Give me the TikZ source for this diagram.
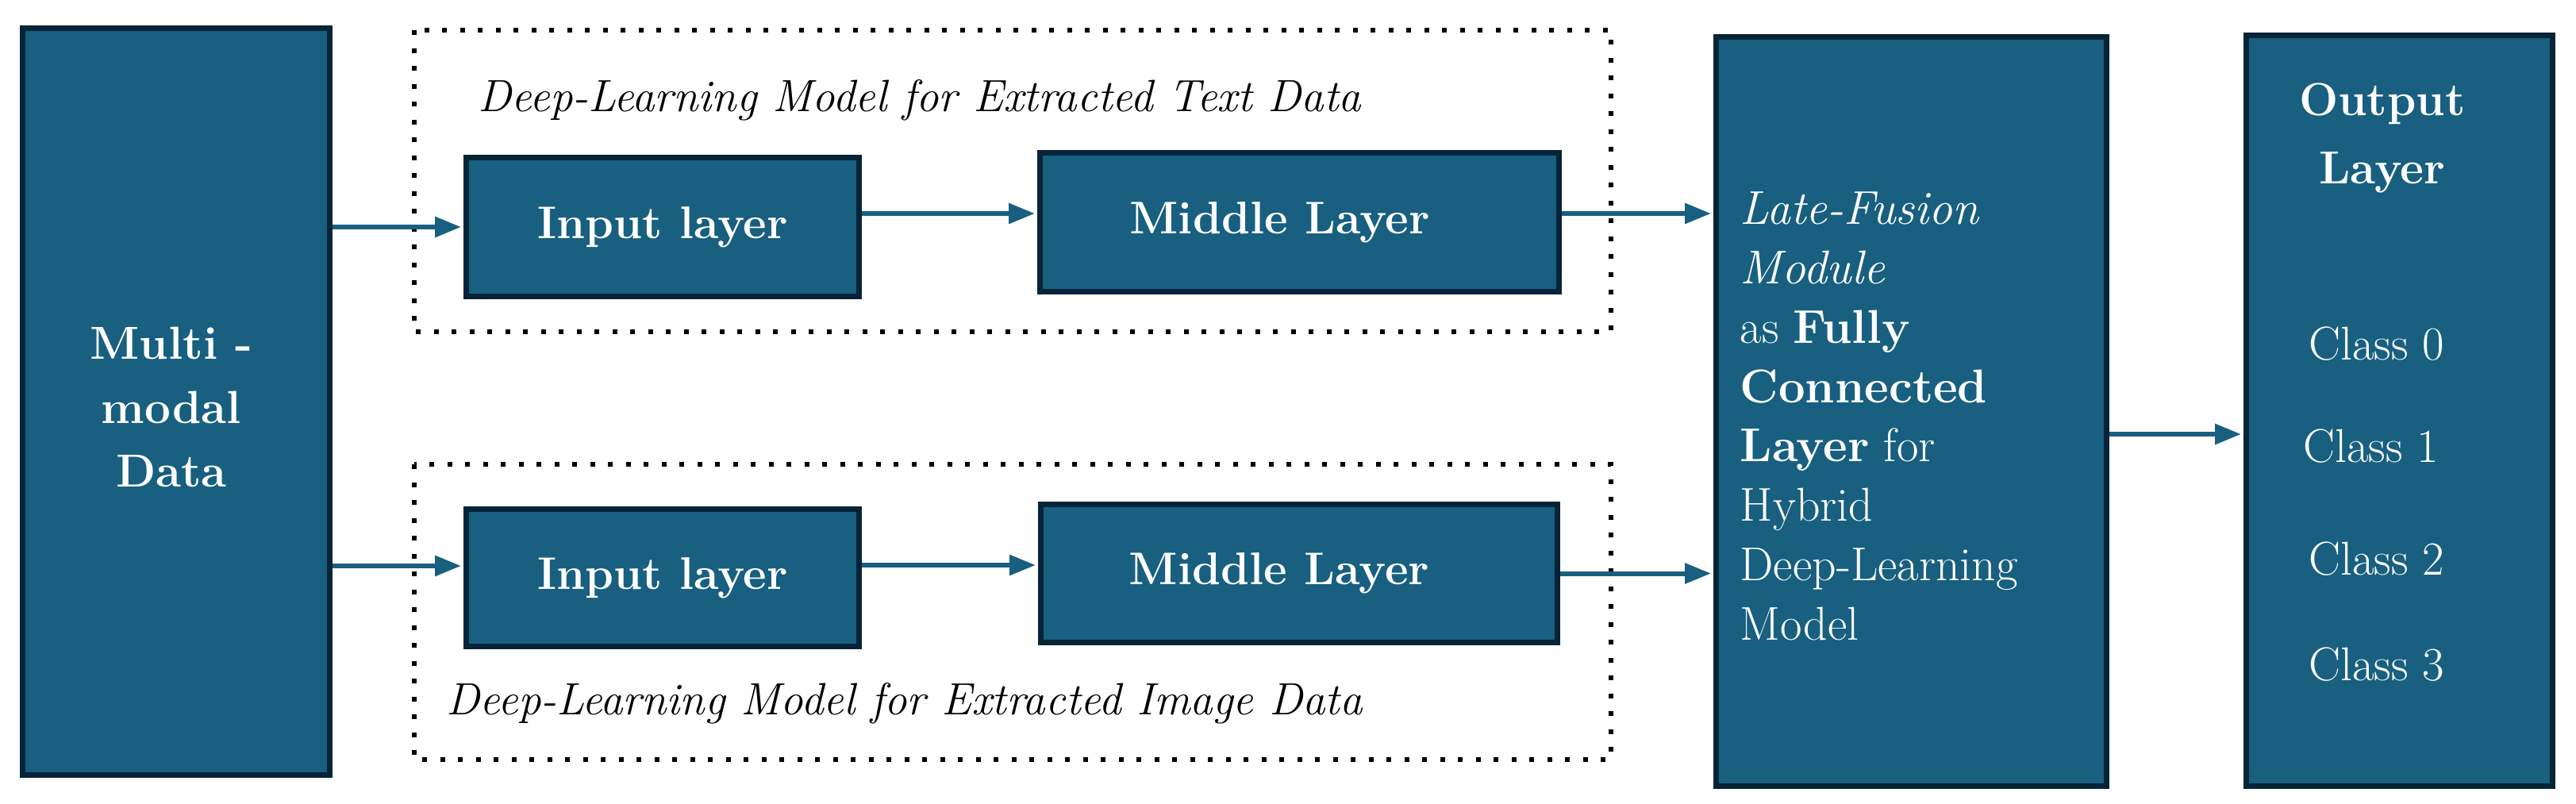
\documentclass[tikz,border=0pt]{standalone}
\usepackage{tikz}
\usetikzlibrary{calc, positioning, arrows.meta}
\definecolor{boxblue}{HTML}{185F80}
\definecolor{boxedge}{HTML}{062337}

\begin{document}
\begin{tikzpicture}[
  box/.style={draw=boxedge, fill=boxblue, line width=0.07cm, inner sep=0pt},
  boxtxt/.style={text=white, inner sep=0pt, font=\fontsize{16.6}{21.3}\selectfont},
  conn/.style={draw=boxblue, line width=0.06cm, -{Triangle[length=0.33cm,width=0.25cm]}, shorten >=0.03cm},
  dotframe/.style={draw=black, line width=0.06cm, dash pattern=on 0.06cm off 0.165cm},
  captxt/.style={inner sep=0pt, font=\fontsize{16.2}{20}\selectfont\itshape}
]
\useasboundingbox (0,0) rectangle (32.46,-10.12);
% dotted frames round the two branches
\draw[dotframe] (5.22,-0.38) rectangle (20.30,-4.18);
\draw[dotframe] (5.22,-5.85) rectangle (20.30,-9.57);
\node[captxt, anchor=base west] (capText) at (6.02,-1.40) {Deep-Learning Model for Extracted Text Data};
\node[captxt, anchor=base west] (capImage) at (5.62,-9.00) {Deep-Learning Model for Extracted Image Data};

% boxes
\node[box, minimum width=3.87cm, minimum height=9.41cm] (multi) at (2.22,-5.06) {};
\node[box, boxtxt, minimum width=4.95cm, minimum height=1.75cm, font=\fontsize{16.4}{21.3}\selectfont\bfseries] (inT) at (8.35,-2.86) {Input layer};
\node[box, boxtxt, minimum width=6.54cm, minimum height=1.75cm, font=\fontsize{16.4}{21.3}\selectfont\bfseries] (midT) at (16.375,-2.80) {Middle Layer\hspace*{0.5cm}};
\node[box, boxtxt, minimum width=4.95cm, minimum height=1.73cm, font=\fontsize{16.4}{21.3}\selectfont\bfseries] (inB) at (8.35,-7.28) {Input layer};
\node[box, boxtxt, minimum width=6.51cm, minimum height=1.74cm, font=\fontsize{16.4}{21.3}\selectfont\bfseries] (midB) at (16.37,-7.225) {Middle Layer\hspace*{0.5cm}};
\node[box, minimum width=4.92cm, minimum height=9.44cm] (fusion) at (24.085,-5.185) {};
\node[box, minimum width=3.86cm, minimum height=9.46cm] (out) at (30.235,-5.175) {};

% texts in the tall boxes
\node[boxtxt, align=center, font=\fontsize{16.6}{23}\selectfont\bfseries] (multiTxt) at (2.16,-5.13) {Multi -\\modal\\Data};
\node[boxtxt, align=left, anchor=north west, font=\fontsize{17}{21.3}\selectfont] (fusionTxt) at (21.92,-2.41)
  {\textit{Late-Fusion}\\\textit{Module}\\as \textbf{Fully}\\\textbf{Connected}\\\textbf{Layer} for\\Hybrid\\Deep-Learning\\Model};
\node[boxtxt, align=center, font=\fontsize{16.6}{24.5}\selectfont\bfseries] (outTxt) at (30.02,-1.74) {Output\\Layer};
\foreach \c/\x/\y in {0/29.95/4.53, 1/29.88/5.82, 2/29.95/7.24, 3/29.95/8.57}
  \node[boxtxt, anchor=base, font=\fontsize{17}{21.3}\selectfont] (class\c) at (\x,-\y) {Class \c};

% connectors
\draw[conn] (multi.east |- inT.west) -- (inT.west);
\draw[conn] ([yshift=0.15cm]inB.west -| multi.east) -- ([yshift=0.15cm]inB.west);
\draw[conn] ([yshift=0.17cm]inT.east) -- ([yshift=0.17cm]inT.east -| midT.west);
\draw[conn] ([yshift=0.16cm]inB.east) -- ([yshift=0.16cm]inB.east -| midB.west);
\draw[conn] ([yshift=0.11cm]midT.east) -- ([yshift=0.11cm]midT.east -| fusion.west);
\draw[conn] (midB.east) -- (midB.east -| fusion.west);
\draw[conn] ([yshift=-0.285cm]fusion.east) -- ([yshift=-0.285cm]fusion.east -| out.west);
\end{tikzpicture}
\end{document}
